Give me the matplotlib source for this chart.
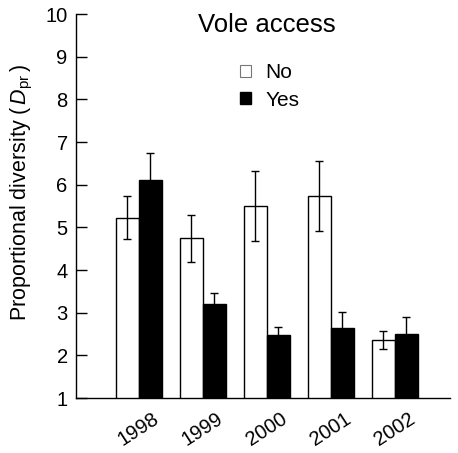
#!/usr/bin/env python3
"""Proportional diversity by year, with and without vole access."""

import matplotlib
matplotlib.use("Agg")
import matplotlib.pyplot as plt
from matplotlib.patches import Patch
import numpy as np

years = ["1998", "1999", "2000", "2001", "2002"]
no_access = [5.23, 4.74, 5.50, 5.74, 2.36]
no_err = [0.50, 0.55, 0.82, 0.82, 0.20]
yes_access = [6.12, 3.20, 2.48, 2.63, 2.51]
yes_err = [0.63, 0.26, 0.18, 0.38, 0.38]
yticks = list(range(1, 11))

plt.rcParams["font.family"] = ["Liberation Sans", "DejaVu Sans"]
plt.rcParams["mathtext.fontset"] = "custom"
plt.rcParams["mathtext.rm"] = "Liberation Sans"
plt.rcParams["mathtext.it"] = "Liberation Sans:italic"

fig = plt.figure(figsize=(4.58, 4.53), dpi=100)
ax = fig.add_axes([76 / 458, 55 / 453, 374 / 458, 384 / 453])

x = np.arange(len(years))
w = 0.36
ax.bar(x - w / 2, no_access, width=w, color="white", edgecolor="black",
       linewidth=1.0, zorder=2)
ax.bar(x + w / 2, yes_access, width=w, color="black", edgecolor="black",
       linewidth=1.0, zorder=2)
ax.errorbar(x - w / 2, no_access, yerr=no_err, fmt="none", ecolor="black",
            elinewidth=1.0, capsize=3, capthick=1.0, zorder=3)
ax.errorbar(x + w / 2, yes_access, yerr=yes_err, fmt="none", ecolor="black",
            elinewidth=1.0, capsize=3, capthick=1.0, zorder=3)

ax.set_xlim(-0.98, 4.86)
ax.set_ylim(1, 10)
ax.set_yticks(yticks)
ax.set_xticks(x)
ax.set_xticklabels(years, rotation=33, ha="center", fontsize=14.5)
ax.tick_params(axis="y", direction="in", length=8, width=1, labelsize=14.5, pad=6)
ax.tick_params(axis="x", length=0, pad=8)
for side in ("top", "right"):
    ax.spines[side].set_visible(False)
for side in ("left", "bottom"):
    ax.spines[side].set_linewidth(1.0)

ax.set_ylabel(r"Proportional diversity (${\,}\mathit{D}_{\mathrm{pr}}{\,}$)",
              fontsize=15.5)
ax.yaxis.set_label_coords(-0.11, 0.535)

fig.text(267 / 458, 1 - 25 / 453, "Vole access", fontsize=18.5,
         ha="center", va="center")

handles = [Patch(facecolor="white", edgecolor="#777777", linewidth=0.8),
           Patch(facecolor="black", edgecolor="black")]
fig.legend(handles, ["No", "Yes"], loc="upper left",
           bbox_to_anchor=(230 / 458, 1 - 53 / 453), frameon=False,
           fontsize=15, handlelength=0.5, handleheight=0.5,
           handletextpad=0.7, labelspacing=0.4, borderpad=0)

fig.savefig("out.png", dpi=100)
